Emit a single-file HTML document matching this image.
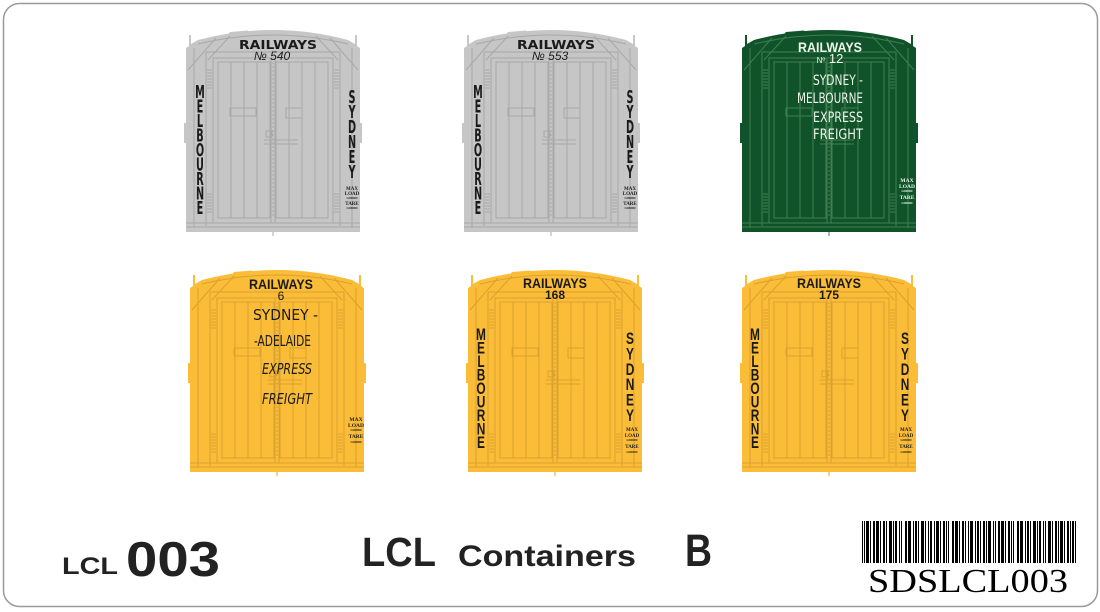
<!DOCTYPE html>
<html><head><meta charset="utf-8"><style>
html,body{margin:0;padding:0;background:#fff;}
svg{display:block;}
.st{font-family:"DejaVu Sans Condensed","DejaVu Sans","Liberation Sans",sans-serif;font-weight:bold;}
.sc{font-family:"DejaVu Sans Condensed","DejaVu Sans","Liberation Sans",sans-serif;}
.sn{font-family:"Liberation Sans","DejaVu Sans",sans-serif;}
.sr{font-family:"Liberation Serif","DejaVu Serif",serif;}
</style></head><body>
<svg width="1100" height="612" viewBox="0 0 1100 612" xmlns="http://www.w3.org/2000/svg">
<defs>
<g id="c">
  <path d="M0,20 L3,18 L3,7 L5,7 L5,16 L12,12 Q87,-8 162,12 L169,16 L169,7 L171,7 L171,18 L174,20 L174,204 L0,204 Z" style="fill:var(--b)"/>
  <rect x="-2" y="95" width="3" height="20" style="fill:var(--b)"/>
  <rect x="173" y="95" width="3" height="20" style="fill:var(--b)"/>
  <path d="M40,9 L44,4 L62,2.5 L64,6 Z" style="fill:var(--b)"/>
  <g fill="none" style="stroke:var(--l)" stroke-width="1">
    <path d="M12,16 Q87,-2 162,16"/>
    <path d="M20,24 H154 M27,30 H147"/>
    <rect x="27" y="30" width="120" height="165"/>
    <rect x="32" y="34" width="52" height="156"/>
    <rect x="90" y="34" width="52" height="156"/>
    <path d="M85,30 V195 M89,30 V195"/>
    <path d="M87,34 V190" stroke-dasharray="2 2"/>
    <path d="M45,34V190 M58,34V190 M71,34V190 M103,34V190 M116,34V190 M129,34V190"/>
    <path d="M30,10 L2,42 M44,8 L22,32 M144,10 L172,42 M130,8 L152,32"/>
    <path d="M20,24 V198 M154,24 V198 M8,20 V200 M166,20 V200"/>
    <path d="M21,42H26M21,45H26M21,48H26M21,51H26M21,54H26M21,57H26M21,60H26 M148,42H153M148,45H153M148,48H153M148,51H153M148,54H153M148,57H153M148,60H153"/>
    <path d="M21,166H26M21,169H26M21,172H26M21,175H26M21,178H26M21,181H26M21,184H26 M148,166H153M148,169H153M148,172H153M148,175H153M148,178H153M148,181H153M148,184H153"/>
    <path d="M0,195 H174 M0,199 H174"/>
    <rect x="44" y="80" width="26" height="8"/>
    <rect x="100" y="80" width="16" height="10"/>
    <path d="M78,112 H112 M78,116 H112"/>
    <rect x="80" y="103" width="6" height="6"/>
    <path d="M87,204 V208" />
  </g>
</g>
</defs>

<rect x="3.5" y="3.5" width="1094" height="603" rx="16" ry="16" fill="#fff" stroke="#9a9a9a" stroke-width="1.5"/>

<use href="#c" x="186" y="28" style="--b:#c6c6c6;--l:#a8a8a8"/>
<use href="#c" x="464" y="28" style="--b:#c6c6c6;--l:#a8a8a8"/>
<use href="#c" x="742" y="28" style="--b:#10532a;--l:#3f7f52"/>
<use href="#c" x="190" y="268" style="--b:#fbbd38;--l:#d9a12e"/>
<use href="#c" x="468" y="268" style="--b:#fbbd38;--l:#d9a12e"/>
<use href="#c" x="742" y="268" style="--b:#fbbd38;--l:#d9a12e"/>

<!-- Container 1 (grey) -->
<g fill="#1a1a1a">
  <text class="st" x="239" y="49" font-size="12" textLength="78" lengthAdjust="spacingAndGlyphs">RAILWAYS</text>
  <text class="sn" x="272" y="60" font-size="12" font-style="italic" text-anchor="middle">№ 540</text>
  <text class="st" transform="translate(200,0) scale(0.6,1)" x="0" y="98" font-size="18" text-anchor="middle"><tspan x="0">M</tspan><tspan x="0" dy="14.5">E</tspan><tspan x="0" dy="14.5">L</tspan><tspan x="0" dy="14.5">B</tspan><tspan x="0" dy="14.5">O</tspan><tspan x="0" dy="14.5">U</tspan><tspan x="0" dy="14.5">R</tspan><tspan x="0" dy="14.5">N</tspan><tspan x="0" dy="14.5">E</tspan></text>
  <text class="st" transform="translate(352,0) scale(0.6,1)" x="0" y="103" font-size="18" text-anchor="middle"><tspan x="0">S</tspan><tspan x="0" dy="15">Y</tspan><tspan x="0" dy="15">D</tspan><tspan x="0" dy="15">N</tspan><tspan x="0" dy="15">E</tspan><tspan x="0" dy="15">Y</tspan></text>
  <g class="sr" font-weight="bold" text-anchor="middle">
    <text x="352" y="190" font-size="5">MAX</text>
    <text x="352" y="195" font-size="5">LOAD</text>
    <text x="352" y="199" font-size="3">L000000</text>
    <text x="352" y="205" font-size="5">TARE</text>
    <text x="352" y="209" font-size="3">L000000</text>
  </g>
</g>

<!-- Container 2 (grey) -->
<g fill="#1a1a1a">
  <text class="st" x="517" y="49" font-size="12" textLength="78" lengthAdjust="spacingAndGlyphs">RAILWAYS</text>
  <text class="sn" x="550" y="60" font-size="12" font-style="italic" text-anchor="middle">№ 553</text>
  <text class="st" transform="translate(478,0) scale(0.6,1)" x="0" y="98" font-size="18" text-anchor="middle"><tspan x="0">M</tspan><tspan x="0" dy="14.5">E</tspan><tspan x="0" dy="14.5">L</tspan><tspan x="0" dy="14.5">B</tspan><tspan x="0" dy="14.5">O</tspan><tspan x="0" dy="14.5">U</tspan><tspan x="0" dy="14.5">R</tspan><tspan x="0" dy="14.5">N</tspan><tspan x="0" dy="14.5">E</tspan></text>
  <text class="st" transform="translate(630,0) scale(0.6,1)" x="0" y="103" font-size="18" text-anchor="middle"><tspan x="0">S</tspan><tspan x="0" dy="15">Y</tspan><tspan x="0" dy="15">D</tspan><tspan x="0" dy="15">N</tspan><tspan x="0" dy="15">E</tspan><tspan x="0" dy="15">Y</tspan></text>
  <g class="sr" font-weight="bold" text-anchor="middle">
    <text x="630" y="190" font-size="5">MAX</text>
    <text x="630" y="195" font-size="5">LOAD</text>
    <text x="630" y="199" font-size="3">L000000</text>
    <text x="630" y="205" font-size="5">TARE</text>
    <text x="630" y="209" font-size="3">L000000</text>
  </g>
</g>

<!-- Container 3 (green) -->
<g fill="#eef3e8">
  <text class="sn" font-weight="bold" x="798" y="52" font-size="14" textLength="64" lengthAdjust="spacingAndGlyphs">RAILWAYS</text>
  <text class="sn" x="830" y="63" font-size="13" text-anchor="middle"><tspan font-size="8">Nº</tspan> 12</text>
  <text class="sc" x="813" y="85" font-size="14" textLength="50" lengthAdjust="spacingAndGlyphs">SYDNEY -</text>
  <text class="sc" x="797" y="103" font-size="14" textLength="66" lengthAdjust="spacingAndGlyphs">MELBOURNE</text>
  <text class="sc" x="813" y="122" font-size="14" textLength="50" lengthAdjust="spacingAndGlyphs">EXPRESS</text>
  <text class="sc" x="813" y="139" font-size="14" textLength="50" lengthAdjust="spacingAndGlyphs">FREIGHT</text>
  <g class="sr" font-weight="bold" text-anchor="middle">
    <text x="907" y="182" font-size="5.5">MAX</text>
    <text x="907" y="188" font-size="5.5">LOAD</text>
    <text x="907" y="192" font-size="3">L000000</text>
    <text x="907" y="199" font-size="5.5">TARE</text>
    <text x="907" y="204" font-size="3">L000000</text>
  </g>
</g>

<!-- Container 4 (yellow) -->
<g fill="#1a1a1a">
  <text class="sn" font-weight="bold" x="249" y="289" font-size="14" textLength="64" lengthAdjust="spacingAndGlyphs">RAILWAYS</text>
  <text class="sn" x="281" y="300" font-size="12" text-anchor="middle">6</text>
  <text class="sc" x="253" y="320" font-size="15" textLength="65" lengthAdjust="spacingAndGlyphs">SYDNEY   -</text>
  <text class="sc" x="254" y="346" font-size="15" textLength="57" lengthAdjust="spacingAndGlyphs">-ADELAIDE</text>
  <text class="sc" x="262" y="374" font-size="15" font-style="italic" textLength="50" lengthAdjust="spacingAndGlyphs">EXPRESS</text>
  <text class="sc" x="262" y="404" font-size="15" font-style="italic" textLength="50" lengthAdjust="spacingAndGlyphs">FREIGHT</text>
  <g class="sr" font-weight="bold" text-anchor="middle">
    <text x="356" y="421" font-size="5.5">MAX</text>
    <text x="356" y="427" font-size="5.5">LOAD</text>
    <text x="356" y="431" font-size="3">L000000</text>
    <text x="356" y="438" font-size="5.5">TARE</text>
    <text x="356" y="443" font-size="3">L000000</text>
  </g>
</g>

<!-- Container 5 (yellow) -->
<g fill="#1a1a1a">
  <text class="sn" font-weight="bold" x="523" y="288" font-size="14" textLength="64" lengthAdjust="spacingAndGlyphs">RAILWAYS</text>
  <text class="sn" font-weight="bold" x="555" y="299" font-size="12" text-anchor="middle">168</text>
  <text class="sn" font-weight="bold" transform="translate(481,0) scale(0.7,1)" x="0" y="340" font-size="17" text-anchor="middle"><tspan x="0">M</tspan><tspan x="0" dy="13.5">E</tspan><tspan x="0" dy="13.5">L</tspan><tspan x="0" dy="13.5">B</tspan><tspan x="0" dy="13.5">O</tspan><tspan x="0" dy="13.5">U</tspan><tspan x="0" dy="13.5">R</tspan><tspan x="0" dy="13.5">N</tspan><tspan x="0" dy="13.5">E</tspan></text>
  <text class="sn" font-weight="bold" transform="translate(630,0) scale(0.7,1)" x="0" y="344" font-size="17" text-anchor="middle"><tspan x="0">S</tspan><tspan x="0" dy="15.4">Y</tspan><tspan x="0" dy="15.4">D</tspan><tspan x="0" dy="15.4">N</tspan><tspan x="0" dy="15.4">E</tspan><tspan x="0" dy="15.4">Y</tspan></text>
  <g class="sr" font-weight="bold" text-anchor="middle">
    <text x="632" y="431" font-size="5">MAX</text>
    <text x="632" y="437" font-size="5">LOAD</text>
    <text x="632" y="441" font-size="3">L000000</text>
    <text x="632" y="448" font-size="5">TARE</text>
    <text x="632" y="453" font-size="3">L000000</text>
  </g>
</g>

<!-- Container 6 (yellow) -->
<g fill="#1a1a1a">
  <text class="sn" font-weight="bold" x="797" y="288" font-size="14" textLength="64" lengthAdjust="spacingAndGlyphs">RAILWAYS</text>
  <text class="sn" font-weight="bold" x="829" y="299" font-size="12" text-anchor="middle">175</text>
  <text class="sn" font-weight="bold" transform="translate(755,0) scale(0.7,1)" x="0" y="340" font-size="17" text-anchor="middle"><tspan x="0">M</tspan><tspan x="0" dy="13.5">E</tspan><tspan x="0" dy="13.5">L</tspan><tspan x="0" dy="13.5">B</tspan><tspan x="0" dy="13.5">O</tspan><tspan x="0" dy="13.5">U</tspan><tspan x="0" dy="13.5">R</tspan><tspan x="0" dy="13.5">N</tspan><tspan x="0" dy="13.5">E</tspan></text>
  <text class="sn" font-weight="bold" transform="translate(905,0) scale(0.7,1)" x="0" y="344" font-size="17" text-anchor="middle"><tspan x="0">S</tspan><tspan x="0" dy="15.4">Y</tspan><tspan x="0" dy="15.4">D</tspan><tspan x="0" dy="15.4">N</tspan><tspan x="0" dy="15.4">E</tspan><tspan x="0" dy="15.4">Y</tspan></text>
  <g class="sr" font-weight="bold" text-anchor="middle">
    <text x="906" y="431" font-size="5">MAX</text>
    <text x="906" y="437" font-size="5">LOAD</text>
    <text x="906" y="441" font-size="3">L000000</text>
    <text x="906" y="448" font-size="5">TARE</text>
    <text x="906" y="453" font-size="3">L000000</text>
  </g>
</g>

<!-- Bottom labels -->
<g fill="#222" class="sn" font-weight="bold">
  <text x="62" y="574" font-size="24" textLength="56" lengthAdjust="spacingAndGlyphs">LCL</text>
  <text x="126" y="576" font-size="49" textLength="94" lengthAdjust="spacingAndGlyphs">003</text>
  <text x="362" y="566" font-size="41" textLength="74" lengthAdjust="spacingAndGlyphs">LCL</text>
  <text x="458" y="566" font-size="30" textLength="178" lengthAdjust="spacingAndGlyphs">Containers</text>
  <text x="685" y="566" font-size="45" textLength="27" lengthAdjust="spacingAndGlyphs">B</text>
</g>

<!-- Barcode -->
<g fill="#000" transform="translate(862,521)">
<rect x="0" y="0" width="1" height="42"/><rect x="2" y="0" width="1" height="42"/><rect x="4" y="0" width="3" height="42"/><rect x="8" y="0" width="1" height="42"/><rect x="11" y="0" width="2" height="42"/><rect x="14" y="0" width="3" height="42"/><rect x="18" y="0" width="1" height="42"/><rect x="21" y="0" width="2" height="42"/><rect x="24" y="0" width="1" height="42"/><rect x="27" y="0" width="3" height="42"/><rect x="31" y="0" width="1" height="42"/><rect x="33" y="0" width="2" height="42"/><rect x="37" y="0" width="1" height="42"/><rect x="39" y="0" width="1" height="42"/><rect x="43" y="0" width="2" height="42"/><rect x="46" y="0" width="3" height="42"/><rect x="51" y="0" width="1" height="42"/><rect x="53" y="0" width="2" height="42"/><rect x="56" y="0" width="1" height="42"/><rect x="59" y="0" width="3" height="42"/><rect x="63" y="0" width="1" height="42"/><rect x="66" y="0" width="1" height="42"/><rect x="68" y="0" width="2" height="42"/><rect x="72" y="0" width="1" height="42"/><rect x="74" y="0" width="3" height="42"/><rect x="78" y="0" width="1" height="42"/><rect x="81" y="0" width="2" height="42"/><rect x="84" y="0" width="1" height="42"/><rect x="86" y="0" width="1" height="42"/><rect x="90" y="0" width="2" height="42"/><rect x="93" y="0" width="3" height="42"/><rect x="97" y="0" width="1" height="42"/><rect x="100" y="0" width="2" height="42"/><rect x="103" y="0" width="1" height="42"/><rect x="106" y="0" width="1" height="42"/><rect x="108" y="0" width="3" height="42"/><rect x="113" y="0" width="1" height="42"/><rect x="115" y="0" width="2" height="42"/><rect x="118" y="0" width="1" height="42"/><rect x="121" y="0" width="2" height="42"/><rect x="124" y="0" width="1" height="42"/><rect x="126" y="0" width="3" height="42"/><rect x="131" y="0" width="1" height="42"/><rect x="133" y="0" width="1" height="42"/><rect x="136" y="0" width="2" height="42"/><rect x="139" y="0" width="3" height="42"/><rect x="143" y="0" width="1" height="42"/><rect x="146" y="0" width="2" height="42"/><rect x="149" y="0" width="1" height="42"/><rect x="151" y="0" width="1" height="42"/><rect x="155" y="0" width="2" height="42"/><rect x="158" y="0" width="3" height="42"/><rect x="163" y="0" width="1" height="42"/><rect x="165" y="0" width="2" height="42"/><rect x="168" y="0" width="1" height="42"/><rect x="171" y="0" width="3" height="42"/><rect x="175" y="0" width="1" height="42"/><rect x="177" y="0" width="2" height="42"/><rect x="181" y="0" width="1" height="42"/><rect x="183" y="0" width="1" height="42"/><rect x="186" y="0" width="3" height="42"/><rect x="190" y="0" width="1" height="42"/><rect x="193" y="0" width="2" height="42"/><rect x="196" y="0" width="1" height="42"/><rect x="198" y="0" width="3" height="42"/><rect x="202" y="0" width="1" height="42"/><rect x="205" y="0" width="2" height="42"/><rect x="208" y="0" width="1" height="42"/><rect x="210" y="0" width="2" height="42"/><rect x="213" y="0" width="1" height="42"/>
</g>
<text class="sr" x="868" y="592" font-size="34" fill="#000" textLength="200" lengthAdjust="spacingAndGlyphs">SDSLCL003</text>
</svg>
</body></html>
